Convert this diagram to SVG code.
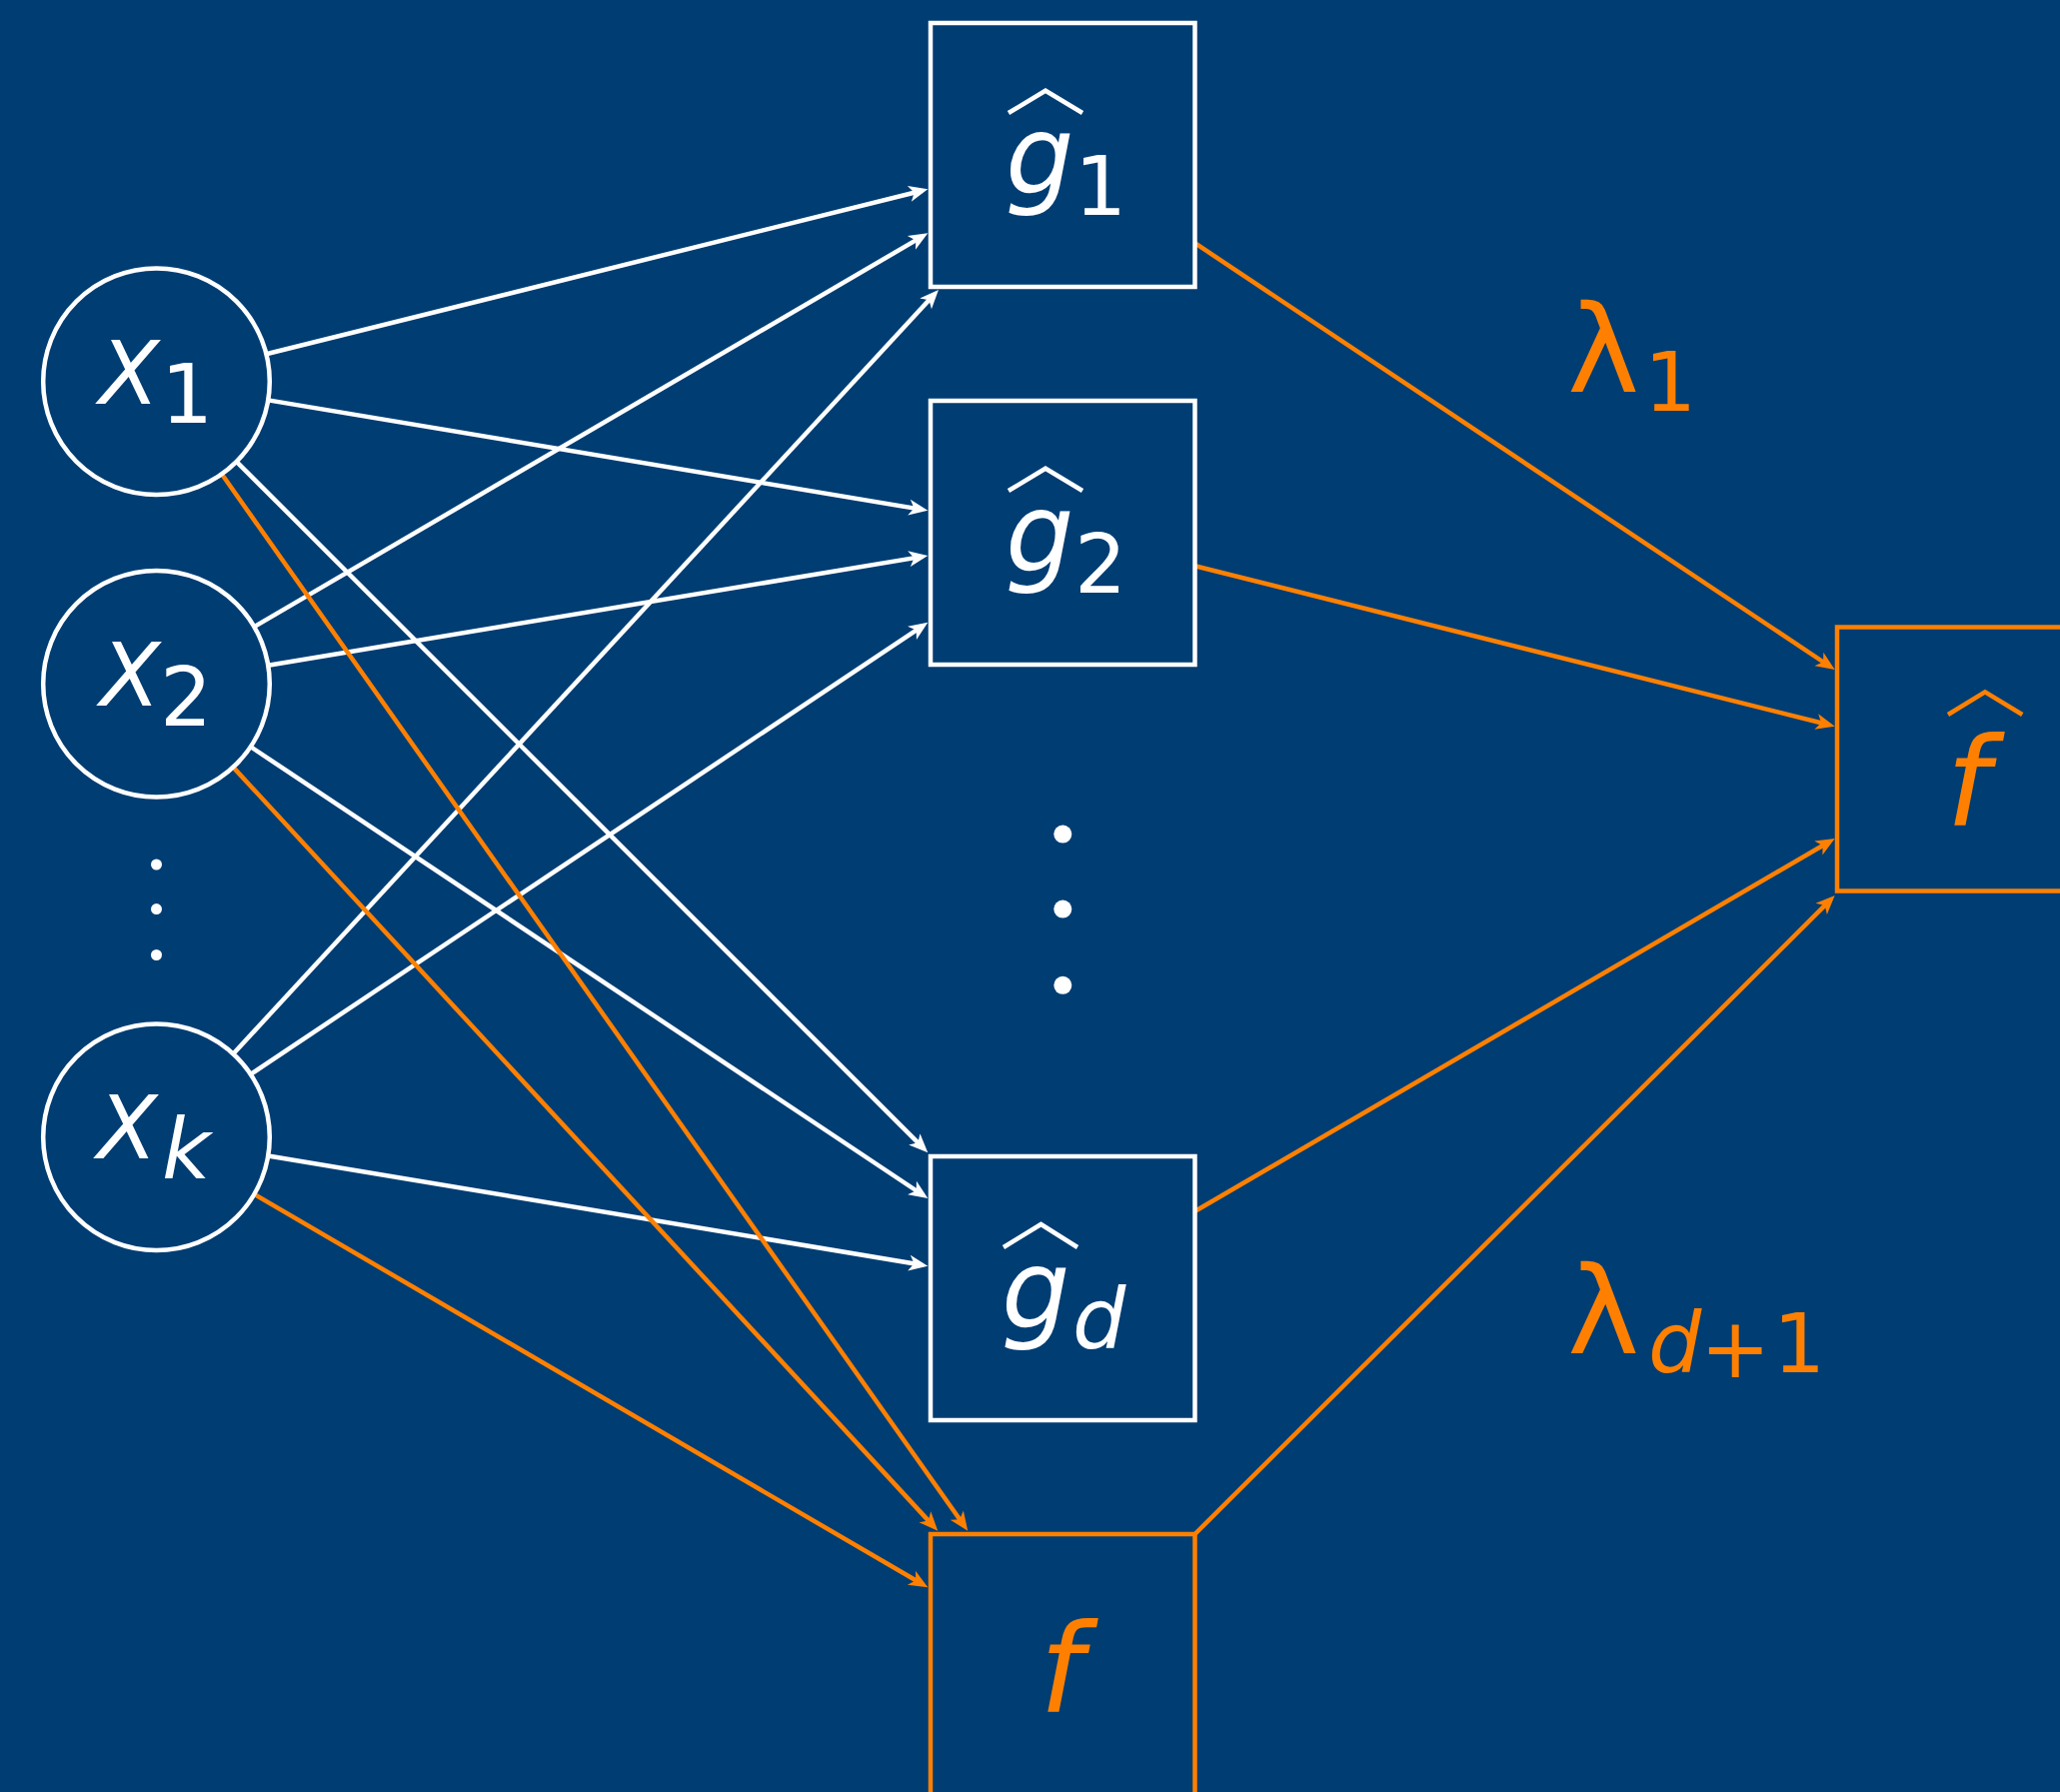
<svg xmlns="http://www.w3.org/2000/svg" width="2061" height="1793" viewBox="0 0 2061 1793">
<style>
.bg{fill:#003D73}
.wl{stroke:#FFFFFF;stroke-width:4.5;fill:none}
.ol{stroke:#FF8000;stroke-width:4.5;fill:none}
.wn{stroke:#FFFFFF;stroke-width:4.5;fill:#003D73}
.on{stroke:#FF8000;stroke-width:4.5;fill:#003D73}
.it{font-family:"DejaVu Sans","Liberation Sans",sans-serif;font-style:italic}
.up{font-family:"DejaVu Sans","Liberation Sans",sans-serif}
.wt{fill:#FFFFFF}
.ot{fill:#FF8000}
.hatw{stroke:#FFFFFF;stroke-width:4.5;fill:none;stroke-linejoin:miter}
.hato{stroke:#FF8000;stroke-width:4.5;fill:none;stroke-linejoin:miter}
</style>
<defs>
<marker id="aw" markerUnits="userSpaceOnUse" viewBox="-15 -15 30 30" markerWidth="30" markerHeight="30" refX="0" refY="0" orient="auto" overflow="visible"><path d="M10,0 L-9,-8 L-4,0 L-9,8 Z" fill="#FFFFFF"/></marker>
<marker id="ao" markerUnits="userSpaceOnUse" viewBox="-15 -15 30 30" markerWidth="30" markerHeight="30" refX="0" refY="0" orient="auto" overflow="visible"><path d="M10,0 L-9,-8 L-4,0 L-9,8 Z" fill="#FF8000"/></marker>
</defs>
<rect class="bg" x="0" y="0" width="2061" height="1793"/>
<g id="connectors">
<line class="wl" x1="266.4" y1="354.3" x2="918.6" y2="191.7" marker-end="url(#aw)"/>
<line class="wl" x1="268.3" y1="400.4" x2="918.4" y2="509.1" marker-end="url(#aw)"/>
<line class="wl" x1="236.6" y1="461.8" x2="921.2" y2="1146.2" marker-end="url(#aw)"/>
<line class="wl" x1="254.3" y1="627.1" x2="919.7" y2="238.4" marker-end="url(#aw)"/>
<line class="wl" x1="268.3" y1="665.7" x2="918.4" y2="557.6" marker-end="url(#aw)"/>
<line class="wl" x1="250.8" y1="747.2" x2="920.0" y2="1193.5" marker-end="url(#aw)"/>
<line class="wl" x1="233.3" y1="1054.5" x2="932.2" y2="297.3" marker-end="url(#aw)"/>
<line class="wl" x1="250.7" y1="1074.9" x2="920.0" y2="628.3" marker-end="url(#aw)"/>
<line class="wl" x1="268.3" y1="1156.5" x2="918.4" y2="1265.0" marker-end="url(#aw)"/>
<line class="ol" x1="221.8" y1="474.3" x2="962.5" y2="1523.5" marker-end="url(#ao)"/>
<line class="ol" x1="233.3" y1="767.6" x2="931.5" y2="1524.4" marker-end="url(#ao)"/>
<line class="ol" x1="254.4" y1="1194.9" x2="919.7" y2="1583.3" marker-end="url(#ao)"/>
<line class="ol" x1="1195.5" y1="243.2" x2="1827.4" y2="664.5" marker-end="url(#ao)"/>
<line class="ol" x1="1195.5" y1="566.2" x2="1826.0" y2="724.3" marker-end="url(#ao)"/>
<line class="ol" x1="1195.5" y1="1212.0" x2="1827.1" y2="844.0" marker-end="url(#ao)"/>
<line class="ol" x1="1195.5" y1="1535.0" x2="1828.6" y2="903.1" marker-end="url(#ao)"/>
</g>
<g id="x1">
<circle class="wn" cx="156.5" cy="381.7" r="113.3"/>
<text class="it wt" x="99" y="404" font-size="88">X</text>
<text class="up wt" x="161" y="423.3" font-size="82">1</text>
</g>
<g id="x2">
<circle class="wn" cx="156.5" cy="684.3" r="113.3"/>
<text class="it wt" x="100" y="705.7" font-size="88">X</text>
<text class="up wt" x="160" y="725.7" font-size="82">2</text>
</g>
<g id="xdots">
<circle cx="156.5" cy="865" r="5.5" fill="#FFFFFF"/>
<circle cx="156.5" cy="909.6" r="5.5" fill="#FFFFFF"/>
<circle cx="156.5" cy="955.5" r="5.5" fill="#FFFFFF"/>
</g>
<g id="xk">
<circle class="wn" cx="156.5" cy="1137.8" r="113.3"/>
<text class="it wt" x="97" y="1159" font-size="88">X</text>
<text class="it wt" x="162" y="1179" font-size="84">k</text>
</g>
<g id="g1">
<rect class="wn" x="931" y="23" width="264.5" height="264"/>
<polyline class="hatw" points="1009,113 1046,90.7 1083,113"/>
<text class="it wt" x="1006" y="194" font-size="108">g</text>
<text class="up wt" x="1075" y="215" font-size="82">1</text>
</g>
<g id="g2">
<rect class="wn" x="931" y="401" width="264.5" height="264"/>
<polyline class="hatw" points="1009,491 1046,468.7 1083,491"/>
<text class="it wt" x="1006" y="572" font-size="108">g</text>
<text class="up wt" x="1075" y="593" font-size="82">2</text>
</g>
<g id="gdots">
<circle cx="1063.3" cy="834.6" r="9" fill="#FFFFFF"/>
<circle cx="1063.3" cy="909.6" r="9" fill="#FFFFFF"/>
<circle cx="1063.3" cy="985.8" r="9" fill="#FFFFFF"/>
</g>
<g id="gd">
<rect class="wn" x="931" y="1157" width="264.5" height="264"/>
<polyline class="hatw" points="1004,1248 1041.5,1225 1078,1248"/>
<text class="it wt" x="1002" y="1329" font-size="108">g</text>
<text class="it wt" x="1073" y="1349.3" font-size="84">d</text>
</g>
<g id="f">
<rect class="on" x="931" y="1535" width="264.5" height="264"/>
<text class="it ot" x="1040" y="1713" font-size="123">f</text>
</g>
<g id="fhat">
<rect class="on" x="1838" y="627.5" width="264.5" height="264"/>
<polyline class="hato" points="1949,715 1986,692.3 2023.3,715"/>
<text class="it ot" x="1947" y="825.7" font-size="123">f</text>
</g>
<g id="lambda1">
<text class="up ot" x="1568" y="391.7" font-size="122">λ</text>
<text class="up ot" x="1645" y="410.7" font-size="82">1</text>
</g>
<g id="lambdad1">
<text class="up ot" x="1568" y="1354" font-size="122">λ</text>
<text class="it ot" x="1649" y="1373.3" font-size="84">d</text>
<text class="up ot" x="1701" y="1378" font-size="84">+</text>
<text class="up ot" x="1774" y="1373.3" font-size="82">1</text>
</g>
</svg>
